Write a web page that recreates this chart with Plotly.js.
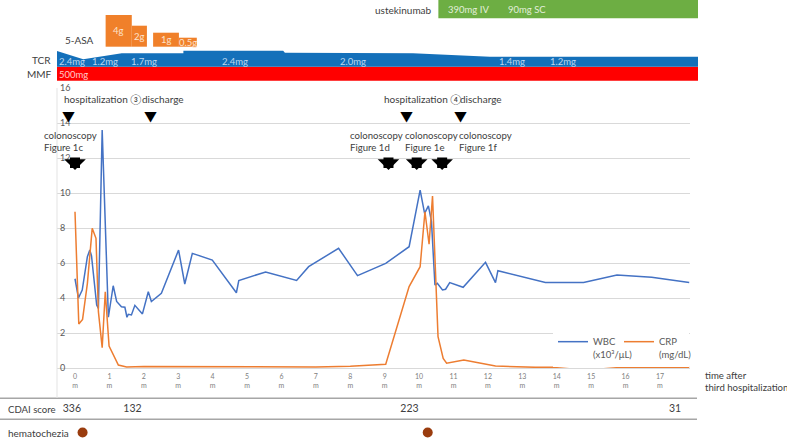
<!DOCTYPE html>
<html><head><meta charset="utf-8">
<script src="https://cdn.plot.ly/plotly-3.0.1.min.js"></script>
<style>html,body{margin:0;padding:0;background:#fff;}#chart{width:787px;height:439px;}</style>
</head><body><div id="chart"></div>
<script>
// ---------------- DATA ----------------
const monthTicks = [0,1,2,3,4,5,6,7,8,9,10,11,12,13,14,15,16,17];
const monthTickText = monthTicks.map(m => m + '<br>m');

const wbcTime  = [0, 0.1, 0.21, 0.36, 0.43, 0.48, 0.63, 0.68, 0.79, 0.97, 1.11, 1.21, 1.35, 1.45, 1.51, 1.55, 1.64, 1.74, 1.96, 2.13, 2.22, 2.51, 3.01, 3.19, 3.41, 3.99, 4.69, 4.76, 5.54, 6.44, 6.79, 7.66, 8.21, 9.03, 9.71, 10.03, 10.16, 10.27, 10.36, 10.46, 10.53, 10.68, 10.77, 10.89, 11.28, 11.93, 12.22, 12.29, 13.67, 14.78, 15.75, 16.76, 17.85];
const wbcValue = [5.1, 4.0, 4.45, 6.36, 6.74, 6.4, 3.6, 3.4, 13.6, 2.9, 4.7, 3.8, 3.5, 3.47, 2.9, 3.07, 3.03, 3.58, 3.09, 4.36, 3.8, 4.27, 6.74, 4.8, 6.55, 6.17, 4.3, 5.0, 5.49, 5.0, 5.79, 6.84, 5.28, 5.98, 6.93, 10.17, 8.84, 9.26, 8.36, 4.74, 4.84, 4.46, 4.5, 4.88, 4.61, 6.04, 4.88, 5.56, 4.88, 4.88, 5.31, 5.18, 4.88];

const crpTime  = [0, 0.11, 0.22, 0.36, 0.5, 0.61, 0.68, 0.72, 0.79, 0.88, 0.99, 1.26, 1.5, 2.0, 3.0, 4.0, 5.0, 6.0, 7.0, 8.0, 9.03, 9.71, 10.03, 10.17, 10.29, 10.39, 10.55, 10.7, 10.8, 11.3, 12.22, 13.38, 14.0, 14.64, 14.9, 15.75, 16.5, 17.85];
const crpValue = [8.93, 2.51, 2.78, 4.84, 7.98, 7.41, 3.22, 2.32, 1.16, 4.36, 1.25, 0.17, 0.06, 0.08, 0.08, 0.07, 0.05, 0.07, 0.06, 0.1, 0.21, 4.65, 5.79, 8.93, 7.07, 9.83, 1.79, 0.55, 0.27, 0.46, 0.11, 0.04, 0.05, 0.15, 0.17, 0.04, 0.05, 0.04];

const colonoscopyTime  = [0, 9.11, 9.93, 10.67];
const colonoscopyLabel = ['colonoscopy<br>Figure 1c', 'colonoscopy<br>Figure 1d', 'colonoscopy<br>Figure 1e', 'colonoscopy<br>Figure 1f'];

const stayTime  = [-0.2, 2.18, 9.64, 11.19];
const stayLabel = ['hospitalization ③', 'discharge', 'hospitalization ④', 'discharge'];

const cdaiTime  = [-0.09, 1.67, 9.72, 17.44];
const cdaiScore = [336, 132, 223, 31];

const hematocheziaTime = [0.22, 10.25];

const asaStart = [0.89, 1.65, 2.27, 3.02];
const asaEnd   = [1.65, 2.09, 3.02, 3.54];
const asaDose  = ['4g', '2g', '1g', '0.5g'];

const tcrTime = [-0.52, 0.44, 1.57, 4.21, 7.64, 12.26, 13.74];
const tcrDose = ['2.4mg', '1.2mg', '1.7mg', '2.4mg', '2.0mg', '1.4mg', '1.2mg'];

const mmfTime = [-0.52];
const mmfDose = ['500mg'];

const ustStart = 10.56;
const ustTime = [10.77, 12.53];
const ustDose = ['390mg IV', '90mg SC'];

// ---------------- STYLE / LAYOUT ----------------
const W = 787, H = 439;
const FONT = "Lato, 'Noto Sans CJK JP', sans-serif";
const PX0 = 75, PXM = 34.41;           // px of month 0, px per month
const m = px => (px - PX0) / PXM;      // px -> months (for axis ranges only)
const PX = px => px / W, PY = py => 1 - py / H;
const mainRange = [m(57), m(690)];
const panelRange = [m(57), m(698)];
const P = py => 81 - py;               // top panel units
const T = py => 41 - (py - 398);       // table units (bottom)

const tcrEdgeT = [panelRange[0], 0.24, 1.36, 3.15, 3.15, 6.05, 6.1, 9.82, 12.06, panelRange[1]];
const tcrEdgeY = [51, 59.3, 53.3, 53.3, 50.7, 50.7, 52.7, 53.3, 56.7, 56.7].map(P);
const asaTopPx = {'4g': 15, '2g': 25.7, '1g': 32.7, '0.5g': 37.7};
const asaBottomPx = 46.7;
const stayShift = [-6, -10, -25, -2];
const colShift  = [-33, -40, -14, 15];

const C = {wbc:'#4472C4', crp:'#ED7D31', tcr:'#1470BA', mmf:'#FF0000', asa:'#F0802A', ust:'#6DAE43', dot:'#9A3C0E', text:'#404040'};

const traces = [];
traces.push({x:[panelRange[0], panelRange[1], panelRange[1], panelRange[0]], y:[P(80.7),P(80.7),P(66.7),P(66.7)],
  xaxis:'x2', yaxis:'y2', mode:'lines', fill:'toself', fillcolor:C.mmf, line:{width:0}, hoverinfo:'skip', showlegend:false});
traces.push({x:tcrEdgeT.concat([panelRange[1], panelRange[0]]), y:tcrEdgeY.concat([P(66.7), P(66.7)]),
  xaxis:'x2', yaxis:'y2', mode:'lines', fill:'toself', fillcolor:C.tcr, line:{width:0}, hoverinfo:'skip', showlegend:false});
asaDose.forEach((d,i) => {
  traces.push({x:[asaStart[i], asaEnd[i], asaEnd[i], asaStart[i]], y:[P(asaBottomPx),P(asaBottomPx),P(asaTopPx[d]),P(asaTopPx[d])],
    xaxis:'x2', yaxis:'y2', mode:'lines', fill:'toself', fillcolor:C.asa, line:{width:0}, hoverinfo:'skip', showlegend:false});
});
traces.push({x:[ustStart, panelRange[1], panelRange[1], ustStart], y:[P(18.3),P(18.3),P(0),P(0)],
  xaxis:'x2', yaxis:'y2', mode:'lines', fill:'toself', fillcolor:C.ust, line:{width:0}, hoverinfo:'skip', showlegend:false});

traces.push({x:wbcTime, y:wbcValue, mode:'lines', name:'WBC<br>(x10³/μL)', line:{color:C.wbc, width:1.5}, legend:'legend'});
traces.push({x:crpTime, y:crpValue, mode:'lines', name:'CRP<br>(mg/dL)', line:{color:C.crp, width:1.5}, legend:'legend2'});

traces.push({x:cdaiTime, y:cdaiTime.map(()=>T(409.3)), mode:'text', text:cdaiScore.map(String), textposition:'middle center',
  textfont:{family:FONT, size:10.5, color:C.text}, xaxis:'x2', yaxis:'y3', showlegend:false, hoverinfo:'skip', cliponaxis:false});
traces.push({x:hematocheziaTime, y:hematocheziaTime.map(()=>T(432.5)), mode:'markers', marker:{size:10, color:C.dot},
  xaxis:'x2', yaxis:'y3', showlegend:false, hoverinfo:'skip', cliponaxis:false});

const ann = [];
const txt = (text, x, y, opts) => Object.assign({text, x, y, showarrow:false, font:{family:FONT, size:10, color:C.text}}, opts);
ann.push(txt('5-ASA', PX(63), PY(40.5), {xref:'paper', yref:'paper', xanchor:'left', yanchor:'middle'}));
ann.push(txt('TCR', PX(53), PY(59.5), {xref:'paper', yref:'paper', xanchor:'right', yanchor:'middle'}));
ann.push(txt('MMF', PX(54), PY(73.5), {xref:'paper', yref:'paper', xanchor:'right', yanchor:'middle'}));
ann.push(txt('ustekinumab', PX(434), PY(10), {xref:'paper', yref:'paper', xanchor:'right', yanchor:'middle'}));
ann.push(txt('CDAI score', PX(5.5), PY(409.3), {xref:'paper', yref:'paper', xanchor:'left', yanchor:'middle', font:{family:FONT, size:9.6, color:C.text}}));
ann.push(txt('hematochezia', PX(5.5), PY(432.5), {xref:'paper', yref:'paper', xanchor:'left', yanchor:'middle'}));
ann.push(txt('time after<br>third hospitalization', PX(703), PY(381), {xref:'paper', yref:'paper', xanchor:'left', yanchor:'middle', align:'left', font:{family:FONT, size:9.6, color:C.text}}));

asaDose.forEach((d,i) => ann.push(txt(d, (asaStart[i]+asaEnd[i])/2, (P(asaBottomPx)+P(asaTopPx[d]))/2,
  {xref:'x2', yref:'y2', xanchor:'center', yanchor:'middle', font:{family:FONT, size:9.5, color:'#FDE2CC'}})));
tcrDose.forEach((d,i) => ann.push(txt(d, tcrTime[i], P(61), {xref:'x2', yref:'y2', xanchor:'left', yanchor:'middle', font:{family:FONT, size:9.5, color:'#BDD7EE'}})));
mmfDose.forEach((d,i) => ann.push(txt(d, mmfTime[i], P(74), {xref:'x2', yref:'y2', xanchor:'left', yanchor:'middle', font:{family:FONT, size:9.5, color:'#FFC9C9'}})));
ustDose.forEach((d,i) => ann.push(txt(d, ustTime[i], P(9), {xref:'x2', yref:'y2', xanchor:'left', yanchor:'middle', font:{family:FONT, size:9.5, color:'#E2EFDA'}})));

stayLabel.forEach((s,i) => {
  ann.push(txt(s, stayTime[i], 15.4, {xref:'x', yref:'y', xanchor:'left', yanchor:'middle', xshift:stayShift[i]}));
  ann.push(txt('▼', stayTime[i], 14.45, {xref:'x', yref:'y', xanchor:'center', yanchor:'middle', font:{family:"'Noto Sans CJK JP', sans-serif", size:13, color:'#000'}}));
});
colonoscopyLabel.forEach((s,i) => {
  ann.push(txt(s, colonoscopyTime[i], 12.97, {xref:'x', yref:'y', xanchor:'left', yanchor:'middle', align:'left', xshift:colShift[i], font:{family:FONT, size:9.6, color:C.text}}));
  ann.push({x:colonoscopyTime[i], y:11.31, xref:'x', yref:'y', text:'', showarrow:true, ax:0, ay:-14,
    arrowhead:1, arrowwidth:10, arrowsize:0.36, arrowcolor:'#000', standoff:0});
});

const legendFont = {family:FONT, size:9.5, color:'#595959'};
const layout = {
  width:W, height:H, margin:{l:0, r:0, t:0, b:0}, paper_bgcolor:'#fff', plot_bgcolor:'rgba(0,0,0,0)',
  font:{family:FONT, color:C.text},
  xaxis:{domain:[PX(57), PX(690)], range:mainRange, tickmode:'array', tickvals:monthTicks, ticktext:monthTickText,
    tickfont:{family:FONT, size:7, color:'#808080'}, showgrid:false, zeroline:false, showline:false, ticks:'', ticklabelstandoff:3, anchor:'y'},
  yaxis:{domain:[PY(368), PY(88)], range:[0,16], dtick:2, gridcolor:'#D9D9D9', gridwidth:1, zeroline:true, zerolinecolor:'#D9D9D9', zerolinewidth:1,
    ticklabelposition:'inside', ticklabeloverflow:'allow', tickfont:{family:FONT, size:9, color:'#595959'}, showline:false, ticks:'', anchor:'x'},
  xaxis2:{domain:[PX(57), PX(698)], range:panelRange, visible:false, anchor:'y2'},
  yaxis2:{domain:[PY(81), 1], range:[0,81], visible:false, anchor:'x2'},
  yaxis3:{domain:[0, PY(398)], range:[0,41], visible:false, anchor:'x2'},
  showlegend:true,
  legend:{x:PX(553), y:PY(329), xanchor:'left', yanchor:'top', bgcolor:'#fff', valign:'top', font:legendFont, itemwidth:30,
    orientation:'h', entrywidth:91, entrywidthmode:'pixels'},
  legend2:{x:PX(619), y:PY(329), xanchor:'left', yanchor:'top', bgcolor:'rgba(0,0,0,0)', valign:'top', font:legendFont, itemwidth:30},
  shapes:[
    {type:'line', xref:'paper', yref:'paper', x0:0, x1:PX(697), y0:PY(398.3), y1:PY(398.3), line:{color:'#A6A6A6', width:1.5}},
    {type:'line', xref:'paper', yref:'paper', x0:0, x1:PX(697), y0:PY(419.3), y1:PY(419.3), line:{color:'#A6A6A6', width:1.5}},
    {type:'line', xref:'paper', yref:'paper', x0:PX(57), x1:PX(57), y0:PY(88), y1:PY(398), line:{color:'#E3E3E3', width:1}}
  ],
  annotations:ann
};
Plotly.newPlot('chart', traces, layout, {staticPlot:true, displayModeBar:false});
</script></body></html>
